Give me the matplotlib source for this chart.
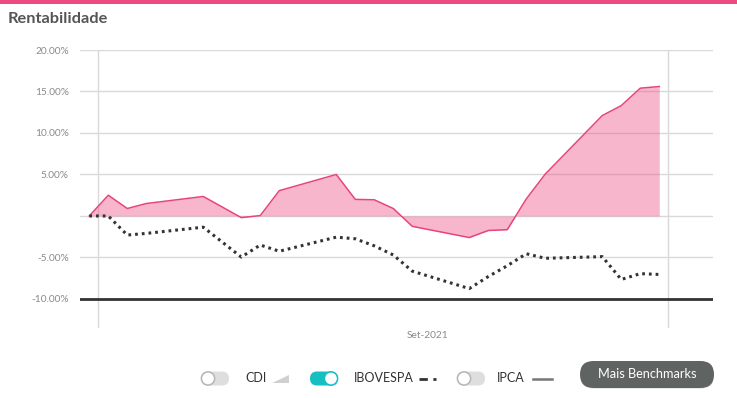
import numpy as np
import pandas as pd
import matplotlib
matplotlib.use("Agg")
import matplotlib.pyplot as plt
import matplotlib.dates as mdates
from matplotlib.patches import FancyBboxPatch, Circle, Polygon, Rectangle

plt.rcParams['font.family'] = ['Lato', 'DejaVu Sans']

# dados (rentabilidade acumulada em %)
datas = ["2021-08-31", "2021-09-01", "2021-09-02", "2021-09-03", "2021-09-06",
         "2021-09-08", "2021-09-09", "2021-09-10", "2021-09-13", "2021-09-14",
         "2021-09-15", "2021-09-16", "2021-09-17", "2021-09-20", "2021-09-21",
         "2021-09-22", "2021-09-23", "2021-09-24", "2021-09-27", "2021-09-28",
         "2021-09-29", "2021-09-30"]
fundo = [0, 2.5, 0.9, 1.5, 2.35, -0.2, 0.05, 3.05, 5.0, 2.0, 1.95, 0.9,
         -1.25, -2.6, -1.75, -1.65, 2.05, 5.05, 12.1, 13.3, 15.4, 15.6]
ibovespa = [0, 0, -2.3, -2.1, -1.35, -4.95, -3.5, -4.25, -2.55, -2.75, -3.6,
            -4.7, -6.65, -8.75, -7.3, -6.0, -4.55, -5.1, -4.9, -7.65, -6.95, -7.05]
yticks = [20, 15, 10, 5, -5, -10]
ytick_labels = ["20.00%", "15.00%", "10.00%", "5.00%", "-5.00%", "-10.00%"]
rotulo_mes = "Set-2021"

rosa = "#ec4a80"
cinza_grade = "#d9d9d9"

x = mdates.date2num(pd.to_datetime(datas) + pd.Timedelta(hours=13))
inicio_mes = mdates.date2num(pd.Timestamp("2021-09-01"))
fim_mes = mdates.date2num(pd.Timestamp("2021-10-01"))

fig = plt.figure(figsize=(7.37, 3.98), dpi=100)
ax = fig.add_axes([80 / 737, 1 - 328 / 398, 633 / 737, 278 / 398])

for y in [20, 15, 10, 5, 0, -5]:
    ax.axhline(y, color=cinza_grade, lw=1, zorder=0)
ax.axhline(-10, color="#333333", lw=2, zorder=4)
for xv in [inicio_mes, fim_mes]:
    ax.axvline(xv, color=cinza_grade, lw=1, zorder=0)

ax.fill_between(x, fundo, 0, color=rosa, alpha=0.4, lw=0, zorder=2)
ax.plot(x, fundo, color="#e8457a", lw=1.1, zorder=3)
ax.plot(x, ibovespa, color="#333333", lw=2.2, linestyle=(0, (0.9, 1.3)), zorder=3)

ax.set_xlim(inicio_mes - 0.947, inicio_mes + 32.37)
ax.set_ylim(-13.5, 20)
ax.set_yticks(yticks)
ax.set_yticklabels(ytick_labels)
ax.set_xticks([inicio_mes + 17.37])
ax.set_xticklabels([rotulo_mes])
ax.tick_params(axis="y", length=0, pad=8, labelsize=7.3, labelcolor="#8a8a8a")
ax.tick_params(axis="x", length=0, pad=2, labelsize=7.3, labelcolor="#8a8a8a")
for s in ax.spines.values():
    s.set_visible(False)

# camada em pixels para titulo e legenda
ov = fig.add_axes([0, 0, 1, 1])
ov.set_xlim(0, 737)
ov.set_ylim(398, 0)
ov.axis("off")

ov.add_patch(Rectangle((0, 0), 737, 3.5, color=rosa, lw=0))
ov.text(8, 19, "Rentabilidade", fontsize=11.8, fontweight="bold", color="#555555", va="center")


def toggle(x0, yc, ligado):
    cor = "#17bfc3" if ligado else "#dedede"
    ov.add_patch(FancyBboxPatch((x0, yc - 7), 28, 14,
                                boxstyle="round,pad=0,rounding_size=7", fc=cor, ec="none"))
    kx = x0 + 21 if ligado else x0 + 7
    ov.add_patch(Circle((kx, yc), 6.6, fc="white", ec=cor if ligado else "#b5b5b5", lw=1.1))


yc = 378.5
toggle(201, yc, False)
ov.text(245, yc, "CDI", fontsize=9, color="#333333", va="center")
ov.add_patch(Polygon([(272, 383), (289, 383), (289, 375)], closed=True, color="#d0d0d0", lw=0))

toggle(310, yc, True)
ov.text(354, yc, "IBOVESPA", fontsize=9, color="#333333", va="center")
ov.plot([419, 436], [yc + 0.5, yc + 0.5], color="#333333", lw=2, linestyle=(0, (3, 2)))

toggle(457, yc, False)
ov.text(497, yc, "IPCA", fontsize=9, color="#333333", va="center")
ov.plot([533.5, 552], [yc + 0.5, yc + 0.5], color="#777777", lw=1.8)

ov.add_patch(FancyBboxPatch((581, 362), 133, 27, boxstyle="round,pad=0,rounding_size=13.5",
                            fc="#d5d5d5", ec="none", alpha=0.5))
ov.add_patch(FancyBboxPatch((580, 361), 134, 27, boxstyle="round,pad=0,rounding_size=13.5",
                            fc="#5f6463", ec="none"))
ov.text(647, 374.5, "Mais Benchmarks", fontsize=9.2, color="white", ha="center", va="center")

fig.savefig("out.png", dpi=100)
